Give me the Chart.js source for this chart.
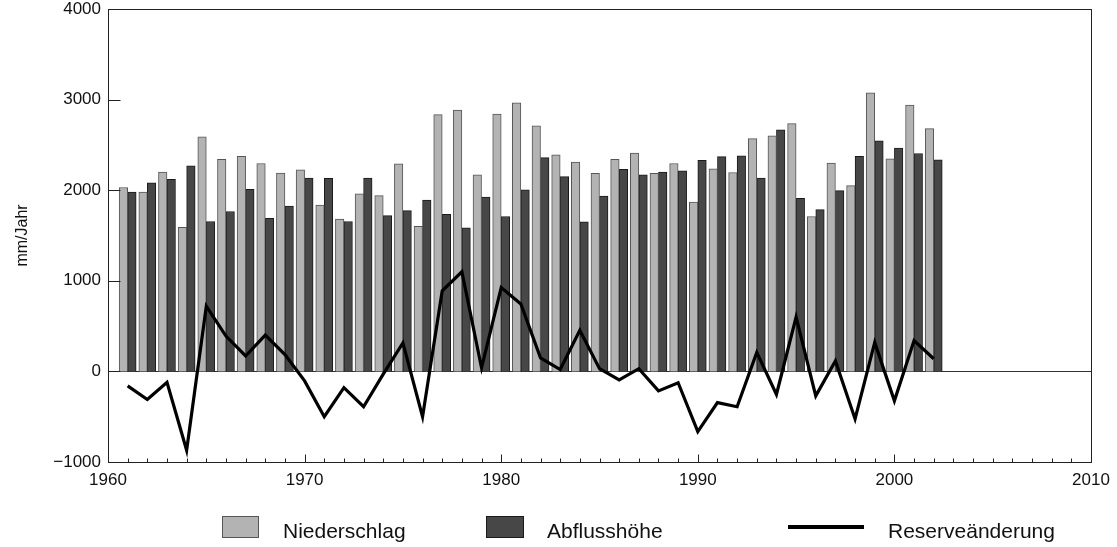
<!DOCTYPE html>
<html>
<head>
<meta charset="utf-8">
<title>Niederschlag, Abflusshöhe und Reserveänderung</title>
<script src="https://cdn.jsdelivr.net/npm/chart.js@4.4.1/dist/chart.umd.min.js"></script>
<style>
  html, body { margin: 0; padding: 0; background: #fff; }
  #wrap { position: relative; width: 1117px; height: 547px; overflow: hidden; }
  #c { position: absolute; left: 0; top: 0; }
  .lg-text { position: absolute; font-family: "Liberation Sans", Arial, Helvetica, sans-serif;
             font-size: 21px; line-height: 21px; color: #111; white-space: nowrap; }
  .lg-mark { position: absolute; box-sizing: border-box; }
</style>
</head>
<body>
<div id="wrap">
  <canvas id="c" width="1117" height="547"></canvas>
  <div id="legend"></div>
</div>
<script>
// Jahre (Kategorien)
const years = [1961, 1962, 1963, 1964, 1965, 1966, 1967, 1968, 1969, 1970,
               1971, 1972, 1973, 1974, 1975, 1976, 1977, 1978, 1979, 1980,
               1981, 1982, 1983, 1984, 1985, 1986, 1987, 1988, 1989, 1990,
               1991, 1992, 1993, 1994, 1995, 1996, 1997, 1998, 1999, 2000,
               2001, 2002];

// Niederschlag in mm/Jahr
const niederschlag = [2030, 1980, 2200, 1590, 2590, 2340, 2375, 2295, 2190, 2225,
                      1835, 1680, 1960, 1940, 2290, 1600, 2835, 2885, 2170, 2840,
                      2965, 2710, 2390, 2310, 2185, 2340, 2410, 2185, 2295, 1870,
                      2235, 2195, 2570, 2600, 2735, 1710, 2300, 2050, 3075, 2345,
                      2940, 2680];

// Abflusshöhe in mm/Jahr
const abflusshoehe = [1980, 2080, 2120, 2270, 1655, 1765, 2010, 1690, 1825, 2135,
                      2130, 1655, 2135, 1720, 1775, 1890, 1735, 1585, 1925, 1710,
                      2005, 2360, 2150, 1650, 1935, 2230, 2170, 2200, 2215, 2330,
                      2370, 2380, 2135, 2665, 1910, 1785, 1995, 2375, 2545, 2465,
                      2405, 2335];

// Reserveänderung in mm/Jahr
const reserveaenderung = [-160, -310, -120, -870, 720, 390, 170, 400, 185, -105,
                          -500, -180, -390, -30, 315, -500, 890, 1100, 40, 925,
                          745, 150, 20, 455, 30, -95, 30, -215, -125, -665,
                          -345, -390, 210, -255, 600, -270, 115, -525, 320, -325,
                          340, 140];

// Achsen
const xMin = 1960, xMax = 2010, xStep = 10;
const yMin = -1000, yMax = 4000, yStep = 1000;
const yTitle = 'mm/Jahr';

const FONT = '"Liberation Sans", Arial, Helvetica, sans-serif';
const toPoints = vals => years.map((yr, i) => ({ x: yr, y: vals[i] }));

const series = [
  { label: 'Niederschlag', kind: 'bar', values: niederschlag, fill: '#b3b3b3', stroke: '#555555' },
  { label: 'Abflusshöhe', kind: 'bar', values: abflusshoehe, fill: '#474747', stroke: '#1a1a1a' },
  { label: 'Reserveänderung', kind: 'line', values: reserveaenderung, fill: '#000000', stroke: '#000000' }
];

// Rahmen, Nulllinie und nach innen zeigende Teilstriche
const frameAndTicks = {
  id: 'frameAndTicks',
  beforeDatasetsDraw(chart) {
    const { ctx, chartArea: a, scales: { y } } = chart;
    const y0 = Math.round(y.getPixelForValue(0)) + 0.5;
    ctx.save();
    ctx.strokeStyle = '#333';
    ctx.lineWidth = 1;
    ctx.beginPath();
    ctx.moveTo(a.left, y0);
    ctx.lineTo(a.right, y0);
    ctx.stroke();
    ctx.restore();
  },
  afterDatasetsDraw(chart) {
    const { ctx, chartArea: a, scales: { x, y } } = chart;
    const L = Math.round(a.left) + 0.5, R = Math.round(a.right) + 0.5;
    const T = Math.round(a.top) + 0.5, B = Math.round(a.bottom) + 0.5;
    ctx.save();
    ctx.strokeStyle = '#222';
    ctx.lineWidth = 1;
    ctx.strokeRect(L, T, R - L, B - T);
    ctx.beginPath();
    y.ticks.forEach(t => {
      const py = Math.round(y.getPixelForValue(t.value)) + 0.5;
      ctx.moveTo(L, py);
      ctx.lineTo(L + 12, py);
    });
    for (let v = xMin; v <= xMax; v++) {
      const px = Math.round(x.getPixelForValue(v)) + 0.5;
      const len = (v % xStep === 0) ? 8 : 4;
      ctx.moveTo(px, B);
      ctx.lineTo(px, B - len);
    }
    ctx.stroke();
    ctx.restore();
  }
};

const datasets = series.map(s => s.kind === 'bar'
  ? {
      type: 'bar', label: s.label, data: toPoints(s.values),
      backgroundColor: s.fill, borderColor: s.stroke, borderWidth: 1,
      barThickness: 8.5, order: 1
    }
  : {
      type: 'line', label: s.label, data: toPoints(s.values),
      borderColor: s.stroke, borderWidth: 3.2, pointRadius: 0, tension: 0,
      fill: false, borderJoinStyle: 'miter', order: 0
    });

new Chart(document.getElementById('c'), {
  data: { datasets },
  options: {
    responsive: false,
    animation: false,
    devicePixelRatio: 1,
    layout: { padding: { left: 0, right: 26, top: 9, bottom: 55 } },
    plugins: { legend: { display: false }, tooltip: { enabled: false } },
    scales: {
      x: {
        type: 'linear', min: xMin, max: xMax, offset: false,
        grid: { display: false, drawTicks: false },
        border: { display: false },
        ticks: {
          stepSize: xStep, padding: 10, color: '#111', maxRotation: 0,
          font: { family: FONT, size: 17, lineHeight: 1 },
          callback: v => String(v)
        },
        afterFit: s => { s.height = 30; s.paddingLeft = 0; s.paddingRight = 0; }
      },
      y: {
        type: 'linear', min: yMin, max: yMax,
        grid: { display: false, drawTicks: false },
        border: { display: false },
        ticks: {
          stepSize: yStep, padding: 7, color: '#111',
          font: { family: FONT, size: 17, lineHeight: 1 },
          callback: v => v < 0 ? '\u2212' + Math.abs(v) : String(v)
        },
        title: {
          display: true, text: yTitle, color: '#111',
          font: { family: FONT, size: 16 },
          padding: { top: 13, bottom: 0 }
        },
        afterFit: s => { s.width = 108; s.paddingTop = 0; s.paddingBottom = 0; }
      }
    }
  },
  plugins: [frameAndTicks]
});

// Legende unter dem Diagramm
const legendSlots = [
  { mark: { left: 222, top: 516, width: 37, height: 22 }, textLeft: 283 },
  { mark: { left: 486, top: 516, width: 38, height: 22 }, textLeft: 547 },
  { mark: { left: 788, top: 525, width: 76, height: 4 }, textLeft: 888 }
];
const legend = document.getElementById('legend');
series.forEach((s, i) => {
  const slot = legendSlots[i];
  const m = document.createElement('div');
  m.className = 'lg-mark';
  Object.assign(m.style, {
    left: slot.mark.left + 'px', top: slot.mark.top + 'px',
    width: slot.mark.width + 'px', height: slot.mark.height + 'px',
    background: s.fill,
    border: s.kind === 'bar' ? '1px solid ' + s.stroke : 'none'
  });
  legend.appendChild(m);
  const t = document.createElement('div');
  t.className = 'lg-text';
  t.textContent = s.label;
  t.style.left = slot.textLeft + 'px';
  t.style.top = '520px';
  legend.appendChild(t);
});
</script>
</body>
</html>
